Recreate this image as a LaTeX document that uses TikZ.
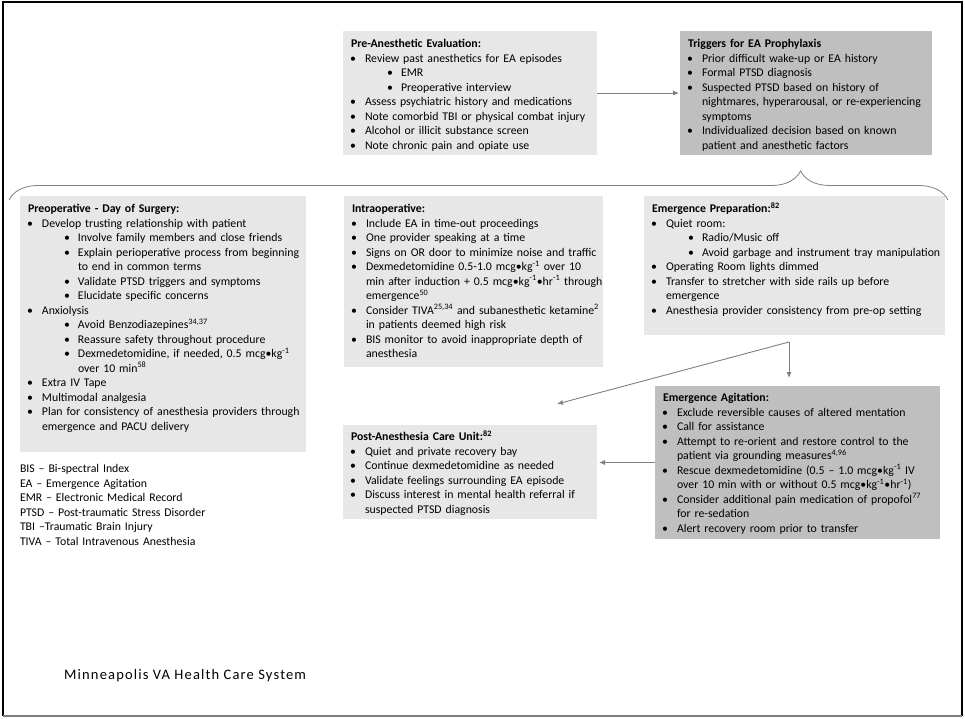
\documentclass[tikz,border=0pt]{standalone}
\usepackage{fontspec}
\setmainfont{Carlito}
\newfontfamily\footfont[LetterSpace=8]{Carlito}
\usetikzlibrary{decorations.pathreplacing,arrows.meta}
\definecolor{lightbox}{HTML}{E7E7E7}
\definecolor{darkbox}{HTML}{BFBFBF}
\definecolor{conncol}{HTML}{7F7F7F}
\newcommand\bodyfont{\fontsize{11.8}{14.5}\selectfont\lineskiplimit=-20pt\lineskip=0pt\raggedright}
\newcommand\nl{\hspace{0pt plus 1fill}\break}
\newcommand\ttl[1]{\noindent\hspace*{8pt}\strut\textbf{#1}}
\newcommand\lia[1]{\par\hangindent=22pt\hangafter=1\noindent\hspace*{7pt}\makebox[15pt][l]{•}#1}
\newcommand\lib[1]{\par\hangindent=58pt\hangafter=1\noindent\hspace*{44pt}\makebox[14pt][l]{•}#1}
\newcommand\sps[1]{\textsuperscript{#1}}
\begin{document}
\begin{tikzpicture}[x=1pt,y=-1pt,
  lbox/.style={fill=lightbox, draw=none, anchor=north west, inner sep=0pt, outer sep=0pt},
  dbox/.style={lbox, fill=darkbox},
  txt/.style={anchor=north west, inner sep=0pt, outer sep=0pt, font=\bodyfont},
  conn/.style={draw=conncol, line width=0.9pt, -{Latex[length=6pt,width=5pt]}},
  bracestyle/.style={draw=conncol, line width=0.8pt, decorate, decoration={brace, amplitude=29pt, aspect=0.843}}
]
\useasboundingbox (0,0) rectangle (965,719);
% frame
\draw[line width=2pt] (3,716) -- (3,2.5) -- (962,2.5) -- (962,716);
\draw[conncol, line width=1.5pt] (3,716) -- (962,716);

% boxes
\node[lbox, minimum width=254pt, minimum height=124pt] (pre) at (343,31) {};
\node[dbox, minimum width=252pt, minimum height=124pt] (trig) at (680,31) {};
\node[lbox, minimum width=286pt, minimum height=256pt] (preop) at (20,196) {};
\node[lbox, minimum width=259pt, minimum height=171pt] (intra) at (344,196) {};
\node[lbox, minimum width=301pt, minimum height=139pt] (emprep) at (644,196) {};
\node[dbox, minimum width=285pt, minimum height=153pt] (ea) at (655,386) {};
\node[lbox, minimum width=254pt, minimum height=94pt] (pacu) at (343,425) {};

% texts
\node[txt, text width=290pt] (preT) at (343,37.5) {\ttl{Pre-Anesthetic Evaluation:}
\lia{Review past anesthetics for EA episodes}
\lib{EMR}
\lib{Preoperative interview}
\lia{Assess psychiatric history and medications}
\lia{Note comorbid TBI or physical combat injury}
\lia{Alcohol or illicit substance screen}
\lia{Note chronic pain and opiate use}\par};

\node[txt, text width=290pt] (trigT) at (680,37.5) {\ttl{Triggers for EA Prophylaxis}
\lia{Prior difficult wake-up or EA history}
\lia{Formal PTSD diagnosis}
\lia{Suspected PTSD based on history of\nl nightmares, hyperarousal, or re-experiencing\nl symptoms}
\lia{Individualized decision based on known\nl patient and anesthetic factors}\par};

\node[txt, text width=320pt] (preopT) at (20,202.5) {\ttl{Preoperative - Day of Surgery:}
\lia{Develop trusting relationship with patient}
\lib{Involve family members and close friends}
\lib{Explain perioperative process from beginning\nl to end in common terms}
\lib{Validate PTSD triggers and symptoms}
\lib{Elucidate specific concerns}
\lia{Anxiolysis}
\lib{Avoid Benzodiazepines\sps{34,37}}
\lib{Reassure safety throughout procedure}
\lib{Dexmedetomidine, if needed, 0.5 mcg•kg\sps{-1}\nl over 10 min\sps{58}}
\lia{Extra IV Tape}
\lia{Multimodal analgesia}
\lia{Plan for consistency of anesthesia providers through\nl emergence and PACU delivery}\par};

\node[txt, text width=300pt] (intraT) at (344,202.5) {\ttl{Intraoperative:}
\lia{Include EA in time-out proceedings}
\lia{One provider speaking at a time}
\lia{Signs on OR door to minimize noise and traffic}
\lia{Dexmedetomidine 0.5-1.0 mcg•kg\sps{-1} over 10\nl min after induction + 0.5 mcg•kg\sps{-1}•hr\sps{-1} through\nl emergence\sps{50}}
\lia{Consider TIVA\sps{25,34} and subanesthetic ketamine\sps{2}\nl in patients deemed high risk}
\lia{BIS monitor to avoid inappropriate depth of\nl anesthesia}\par};

\node[txt, text width=330pt] (emprepT) at (644,202.5) {\ttl{Emergence Preparation:\sps{82}}
\lia{Quiet room:}
\lib{Radio/Music off}
\lib{Avoid garbage and instrument tray manipulation}
\lia{Operating Room lights dimmed}
\lia{Transfer to stretcher with side rails up before\nl emergence}
\lia{Anesthesia provider consistency from pre-op setting}\par};

\node[txt, text width=320pt] (eaT) at (655,391.5) {\ttl{Emergence Agitation:}
\lia{Exclude reversible causes of altered mentation}
\lia{Call for assistance}
\lia{Attempt to re-orient and restore control to the\nl patient via grounding measures\sps{4,96}}
\lia{Rescue dexmedetomidine (0.5 – 1.0 mcg•kg\sps{-1} IV\nl over 10 min with or without 0.5 mcg•kg\sps{-1}•hr\sps{-1})}
\lia{Consider additional pain medication of propofol\sps{77}\nl for re-sedation}
\lia{Alert recovery room prior to transfer}\par};

\node[txt, text width=290pt] (pacuT) at (343,430.5) {\ttl{Post-Anesthesia Care Unit:\sps{82}}
\lia{Quiet and private recovery bay}
\lia{Continue dexmedetomidine as needed}
\lia{Validate feelings surrounding EA episode}
\lia{Discuss interest in mental health referral if\nl suspected PTSD diagnosis}\par};

% legend
\node[txt, text width=300pt] (legend) at (20,462.5) {\strut BIS – Bi-spectral Index\nl
EA – Emergence Agitation\nl
EMR – Electronic Medical Record\nl
PTSD – Post-traumatic Stress Disorder\nl
TBI –Traumatic Brain Injury\nl
TIVA – Total Intravenous Anesthesia\par};

% footer
\node[anchor=west, inner sep=0pt, font=\footfont\fontsize{14.5}{16}\selectfont] (footer) at (64,676) {Minneapolis VA Health Care System};

% brace
\coordinate (bl) at (9,200);
\coordinate (br) at (948,200);
\draw[bracestyle] (bl) -- (br);

% connectors
\coordinate (junc) at (789,342);
\coordinate (diagend) at (557,404);
\draw[conn, shorten >=1pt] (pre.east) -- (trig.west);
\draw[conn, shorten >=8pt] (junc) -- (junc |- ea.north);
\draw[conn] (junc) -- (diagend);
\draw[conn, shorten >=2pt] (ea.west) -- (ea.west -| pacu.east);
\end{tikzpicture}
\end{document}
